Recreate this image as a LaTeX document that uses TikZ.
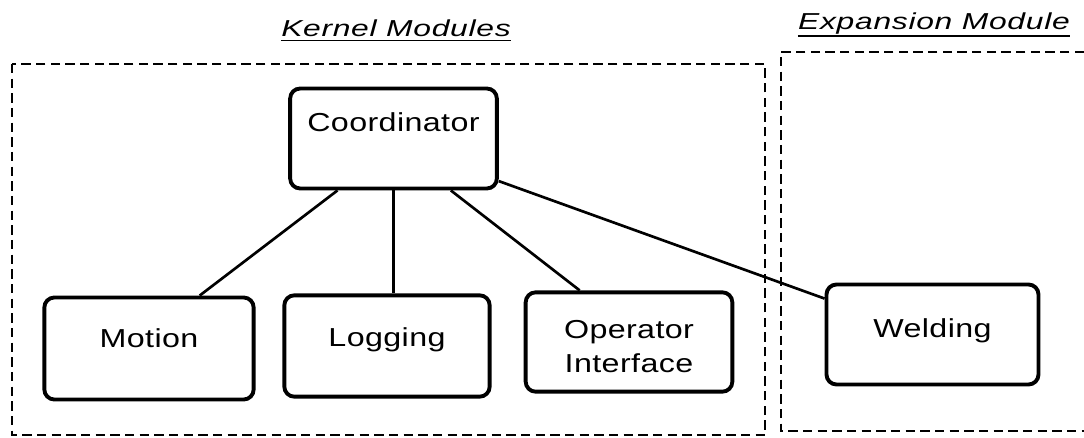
\documentclass[tikz,border=0pt]{standalone}
\usepackage{fontspec}
\setmainfont{Liberation Sans}
\newfontfamily\boxfont[FakeStretch=1.24, LetterSpace=1.5]{Liberation Sans}
\newfontfamily\titlefont[FakeStretch=1.38, LetterSpace=3]{Liberation Sans}
\usepackage{tikz}

\begin{document}
\begin{tikzpicture}[x=0.75pt, y=-0.75pt,
		modbox/.style={draw, line width=2.9pt, rounded corners=7.5pt, inner sep=3pt,
			font=\boxfont\fontsize{19.5}{25.5}\selectfont, align=center, text height=14pt},
		link/.style={line width=2pt},
		groupline/.style={line width=1.1pt, dash pattern=on 7pt off 4pt},
		grouptitle/.style={inner sep=0pt, anchor=base, font=\titlefont\itshape\fontsize{17.3}{20}\selectfont}]
				\useasboundingbox (0,0) rectangle (1084,438);
				
				% Dashed lines
				\draw[groupline] (12,64) rectangle (765,435);
				\draw[groupline] (1084,52) -- (781,52) -- (781,431) -- (1084,431);
				
				% titles
				\node[grouptitle] (kTitle) at (396,37) {Kernel Modules};
				\node[grouptitle] (eTitle) at (934,30) {Expansion Module};
				\draw[line width=1.2pt] ([yshift=-2.5pt]kTitle.base west) -- ([yshift=-2.5pt]kTitle.base east);
				\draw[line width=1.2pt] ([yshift=-4.5pt]eTitle.base west) -- ([yshift=-4.5pt]eTitle.base east);
				
				% modules
				\node[modbox, minimum width=155pt, minimum height=75pt, text depth=24pt] (coord) at (393.5,138.5) {Coordinator};
				\node[modbox, minimum width=157pt, minimum height=76.5pt, text depth=15pt] (motion) at (149,348.5) {Motion};
				\node[modbox, minimum width=154pt, minimum height=76pt, text depth=13.5pt] (logging) at (387,346) {Logging};
				\node[modbox, minimum width=155pt, minimum height=74.5pt, text height=0pt, text depth=0pt] (opif) at (629,342)
					{\raisebox{-10.5pt}[0pt][0pt]{\begin{tabular}{@{}c@{}}Operator\\Interface\end{tabular}}};
				\node[modbox, minimum width=159pt, minimum height=75pt, text depth=9.75pt] (weld) at (932.5,334.5) {Welding};
				
				% links
				\draw[link] ([xshift=-42pt]coord.south) -- ([xshift=38pt]motion.north);
				\draw[link] (coord.south) -- (coord.south |- logging.north);
				\draw[link] ([xshift=43pt]coord.south) -- ([xshift=-37pt]opif.north);
				\draw[link] ([yshift=7pt]coord.south east) -- ([yshift=-12pt]weld.north west);
			\end{tikzpicture}
\end{document}
